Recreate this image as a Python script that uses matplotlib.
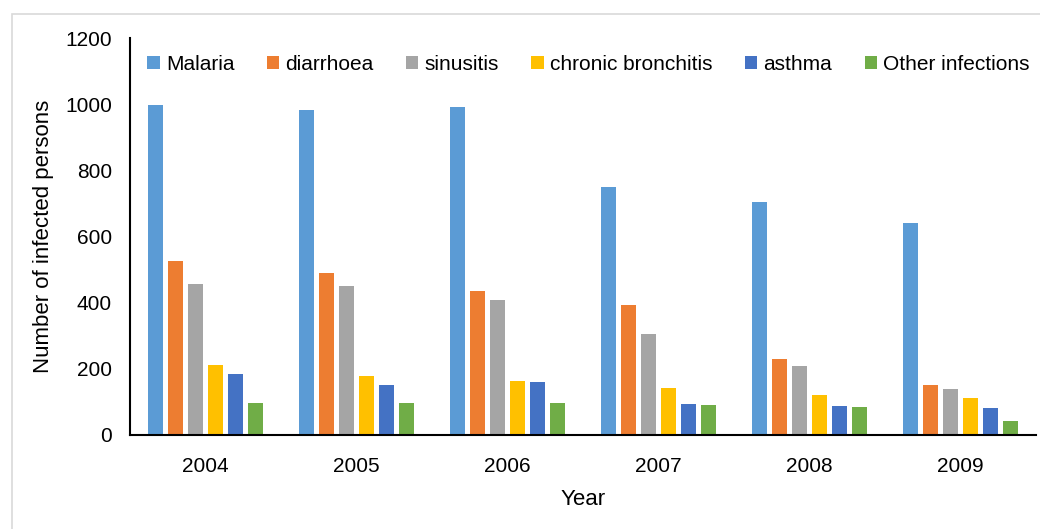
import numpy as np
import matplotlib.pyplot as plt
from matplotlib.patches import Rectangle

years = ['2004', '2005', '2006', '2007', '2008', '2009']
series = ['Malaria', 'diarrhoea', 'sinusitis', 'chronic bronchitis', 'asthma', 'Other infections']
malaria = [998, 983, 991, 751, 703, 640]
diarrhoea = [525, 491, 435, 394, 229, 151]
sinusitis = [456, 450, 407, 304, 208, 139]
bronchitis = [211, 179, 164, 141, 121, 111]
asthma = [183, 150, 159, 94, 87, 81]
other = [96, 98, 96, 91, 84, 42]
colors = ['#5b9bd5', '#ed7d31', '#a5a5a5', '#ffc000', '#4472c4', '#70ad47']

plt.rcParams['font.family'] = ['Liberation Sans', 'DejaVu Sans']

fig = plt.figure(figsize=(10.4, 5.29), dpi=100)
ax = fig.add_axes([0.125, 0.1777, 0.871, 0.7503])

# light frame around the chart area
fig.patches.append(Rectangle((0.0115, -0.1), 1.2, 0.1 + 0.9735, transform=fig.transFigure,
                             fill=False, edgecolor='#d9d9d9', linewidth=1.2))

x = np.arange(len(years))
pitch = 0.1325
for i, (vals, name) in enumerate(zip([malaria, diarrhoea, sinusitis, bronchitis, asthma, other], series)):
    ax.bar(x + (i - 2.5) * pitch, vals, width=0.101, color=colors[i], label=name)

ax.set_xlim(-0.5, len(years) - 0.5)
ax.set_ylim(0, 1200)
ax.set_yticks(range(0, 1201, 200))
ax.set_xticks(x)
ax.set_xticklabels(years)
ax.tick_params(length=0, labelsize=15)
ax.tick_params(axis='x', pad=16)
ax.tick_params(axis='y', pad=13)
for s in ['top', 'right']:
    ax.spines[s].set_visible(False)
ax.spines['left'].set_linewidth(1.5)
ax.spines['bottom'].set_linewidth(1.5)

ax.set_xlabel('Year', fontsize=16, labelpad=9)
ax.set_ylabel('Number of infected persons', fontsize=16, labelpad=8)

ax.legend(loc='upper left', bbox_to_anchor=(0.005, 0.99), ncol=6, frameon=False, fontsize=15,
          handlelength=0.6, handleheight=0.6, handletextpad=0.3, columnspacing=1.55,
          borderaxespad=0.2)

fig.savefig('out.png', dpi=100)
